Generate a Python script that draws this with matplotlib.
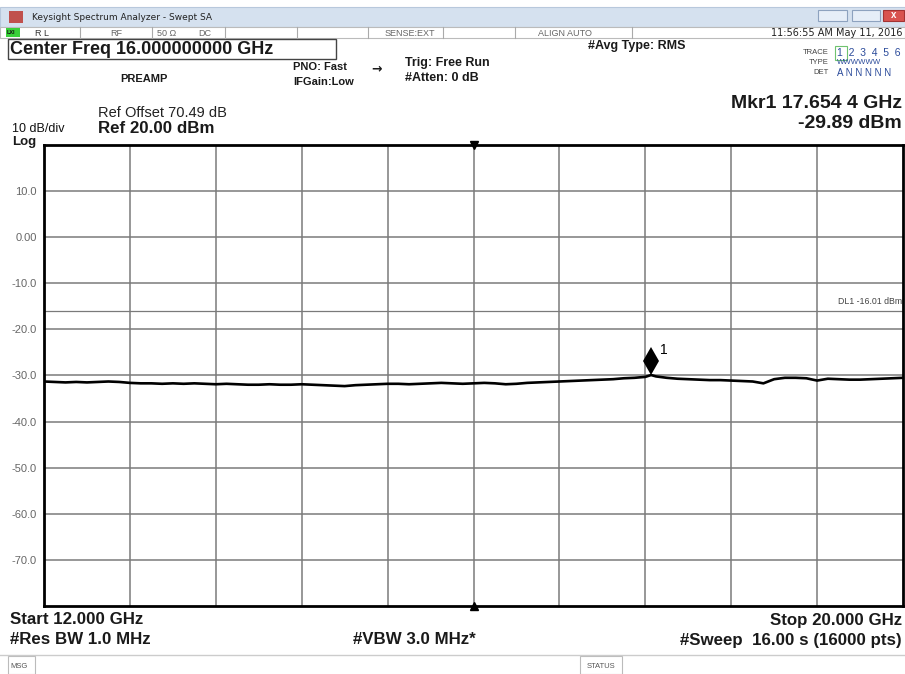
import matplotlib
matplotlib.use("Agg")
import matplotlib.pyplot as plt
from matplotlib.patches import Rectangle
from matplotlib.transforms import ScaledTranslation
import numpy as np

# trace (GHz, dBm)
freq_ghz = [12.0, 12.1, 12.2, 12.3, 12.4, 12.5, 12.6, 12.7, 12.8, 12.9,
            13.0, 13.1, 13.2, 13.3, 13.4, 13.5, 13.6, 13.7, 13.8, 13.9,
            14.0, 14.1, 14.2, 14.3, 14.4, 14.5, 14.6, 14.7, 14.8, 14.9,
            15.0, 15.1, 15.2, 15.3, 15.4, 15.5, 15.6, 15.7, 15.8, 15.9,
            16.0, 16.1, 16.2, 16.3, 16.4, 16.5, 16.6, 16.7, 16.8, 16.9,
            17.0, 17.1, 17.2, 17.3, 17.4, 17.5, 17.6, 17.654, 17.7, 17.8,
            17.9, 18.0, 18.1, 18.2, 18.3, 18.4, 18.5, 18.6, 18.7, 18.8,
            18.9, 19.0, 19.1, 19.2, 19.3, 19.4, 19.5, 19.6, 19.7, 19.8,
            19.9, 20.0]
level_dbm = [-31.3, -31.4, -31.5, -31.4, -31.5, -31.4, -31.3, -31.4, -31.6, -31.7,
             -31.7, -31.8, -31.7, -31.8, -31.7, -31.8, -31.9, -31.8, -31.9, -32.0,
             -32.0, -31.9, -32.0, -32.0, -31.9, -32.0, -32.1, -32.2, -32.3, -32.1,
             -32.0, -31.9, -31.8, -31.8, -31.9, -31.8, -31.7, -31.6, -31.7, -31.8,
             -31.7, -31.6, -31.7, -31.9, -31.8, -31.6, -31.5, -31.4, -31.3, -31.2,
             -31.1, -31.0, -30.9, -30.8, -30.6, -30.5, -30.3, -29.9, -30.2, -30.5,
             -30.7, -30.8, -30.9, -31.0, -31.0, -31.1, -31.2, -31.3, -31.7, -30.8,
             -30.5, -30.5, -30.6, -31.1, -30.7, -30.8, -30.9, -30.9, -30.8, -30.7,
             -30.6, -30.5]

ytick_vals = [10, 0, -10, -20, -30, -40, -50, -60, -70]
ytick_labels = ["10.0", "0.00", "-10.0", "-20.0", "-30.0", "-40.0", "-50.0", "-60.0", "-70.0"]
mkr_freq = 17.6544
mkr_level = -29.89
display_line = -16.01

W, H = 905, 674
fig = plt.figure(figsize=(W / 100, H / 100), dpi=100)
plt.rcParams['font.family'] = ['Liberation Sans', 'DejaVu Sans']


def fx(x):
    return x / W


def fy(y):
    return 1 - y / H


def txt(x, y, s, size=8, bold=True, ha="left", color="#1a1a1a", **kw):
    fig.text(fx(x), fy(y), s, fontsize=size, ha=ha, va="center",
             fontweight="bold" if bold else "normal", color=color, **kw)


def box(x0, y0, x1, y1, fc="none", ec="#999999", lw=0.8):
    fig.patches.append(Rectangle((fx(x0), fy(y1)), fx(x1 - x0), (y1 - y0) / H,
                                 transform=fig.transFigure, fc=fc, ec=ec, lw=lw))


def vline(x, y0, y1, color="#aaaaaa"):
    fig.add_artist(plt.Line2D([fx(x), fx(x)], [fy(y0), fy(y1)], color=color, lw=0.8))


# window title bar
box(0, 7, W, 27, fc="#d5e1ef", ec="#b8c8dc")
box(9, 11, 23, 23, fc="#c0504d", ec="none")
txt(32, 17, "Keysight Spectrum Analyzer - Swept SA", size=6.5, bold=False,
    color="#222222", family=["DejaVu Sans"])
box(818, 10, 847, 21, fc="#e6eef8", ec="#8da2bf")
box(852, 10, 880, 21, fc="#e6eef8", ec="#8da2bf")
box(883, 10, 904, 21, fc="#d9534f", ec="#a33333")
txt(893.5, 15.5, "x", size=7, color="white", ha="center")

# status row
box(0, 27, W, 38, fc="white", ec="#bbbbbb")
box(6, 28, 20, 37, fc="#39d039", ec="none")
txt(7, 32.5, "LXI", size=4, color="#111111")
for xd in [80, 152, 225, 297, 368, 443, 515, 632]:
    vline(xd, 27, 38)
txt(42, 33, "R L", size=6.5, bold=False, color="#333333", ha="center")
txt(116, 33, "RF", size=6.5, bold=False, color="#666666", ha="center")
txt(157, 33, "50 \u03a9", size=6.5, bold=False, color="#666666")
txt(198, 33, "DC", size=6.5, bold=False, color="#666666")
txt(410, 33, "SENSE:EXT", size=6.5, bold=False, color="#666666", ha="center")
txt(565, 33, "ALIGN AUTO", size=6.5, bold=False, color="#666666", ha="center")
txt(902, 33, "11:56:55 AM May 11, 2016", size=7, bold=False, color="#222222", ha="right",
    family=["DejaVu Sans"])

# header
box(8, 39, 336, 59, fc="white", ec="#444444", lw=1)
txt(10, 49.5, "Center Freq 16.000000000 GHz", size=13)
txt(588, 46, "#Avg Type: RMS", size=9)
txt(293, 67, "PNO: Fast", size=8)
txt(293, 82, "IFGain:Low", size=8)
txt(377, 69, "\u2192", size=9, ha="center", family=["DejaVu Sans"])
txt(405, 63, "Trig: Free Run", size=9)
txt(405, 78, "#Atten: 0 dB", size=9)
txt(120, 79, "PREAMP", size=8)
txt(829, 53, "TRACE", size=5.5, bold=False, color="#444444", ha="right")
box(835, 46, 847, 60, ec="#6fc36f")
txt(837, 53, "1  2  3  4  5  6", size=7.5, bold=False, color="#2a4a9a")
txt(829, 63, "TYPE", size=5.5, bold=False, color="#444444", ha="right")
txt(837, 63, "WWWWWW", size=5.6, bold=False, color="#2a4a9a")
txt(829, 73, "DET", size=5.5, bold=False, color="#444444", ha="right")
txt(837, 73, "A N N N N N", size=7, bold=False, color="#2a4a9a")

txt(98, 113, "Ref Offset 70.49 dB", size=10.5, bold=False, color="#222222")
txt(98, 128.5, "Ref 20.00 dBm", size=12.2)
txt(12, 129, "10 dB/div", size=9, bold=False, color="#111111")
txt(12, 142, "Log", size=9.5)
txt(902, 103, "Mkr1 17.654 4 GHz", size=14, ha="right")
txt(902, 123, "%.2f dBm" % mkr_level, size=14, ha="right")

# graticule
ax = fig.add_axes([fx(44), fy(606), fx(903 - 44), (606 - 145) / H])
ax.set_xlim(12, 20)
ax.set_ylim(-80, 20)
ax.set_xticks(np.arange(12.8, 19.3, 0.8))
ax.set_xticklabels([])
ax.set_yticks(ytick_vals)
ax.set_yticklabels(ytick_labels)
ax.tick_params(length=0, labelsize=8, labelcolor="#666666", pad=5)
ax.grid(True, color="#7a7a7a", lw=1.1)
ax.set_axisbelow(True)
for sp in ax.spines.values():
    sp.set_linewidth(2)
    sp.set_color("black")

ax.axhline(display_line, color="#7a7a7a", lw=0.9)
ax.text(19.99, display_line + 1.0, "DL1 %.2f dBm" % display_line, fontsize=6.3,
        color="#444444", ha="right", va="bottom")

ax.plot(freq_ghz, level_dbm, color="black", lw=1.9)

lift = ax.transData + ScaledTranslation(0, 0.135, fig.dpi_scale_trans)
ax.plot(mkr_freq, mkr_level, marker="d", ms=14, color="black", mew=0, transform=lift)
ax.text(mkr_freq + 0.08, mkr_level + 3.8, "1", fontsize=10, color="black", va="bottom")

ax.plot(16, 20, marker="v", ms=5.5, color="black", clip_on=False)
ax.plot(16, -80, marker="^", ms=5.5, color="black", clip_on=False)

# footer
txt(10, 620, "Start 12.000 GHz", size=12.2)
txt(10, 640, "#Res BW 1.0 MHz", size=12.2)
txt(353, 640, "#VBW 3.0 MHz*", size=12.2)
txt(902, 620, "Stop 20.000 GHz", size=12.2, ha="right")
txt(902, 640, "#Sweep  16.00 s (16000 pts)", size=12.2, ha="right")

fig.add_artist(plt.Line2D([0, 1], [fy(655), fy(655)], color="#cccccc", lw=1))
box(8, 656, 35, 674, fc="white", ec="#bbbbbb")
txt(10, 666, "MSG", size=5.5, bold=False, color="#555555")
box(580, 656, 622, 674, fc="white", ec="#bbbbbb")
txt(601, 666, "STATUS", size=5.5, bold=False, color="#555555", ha="center")

fig.savefig("out.png", dpi=100)
